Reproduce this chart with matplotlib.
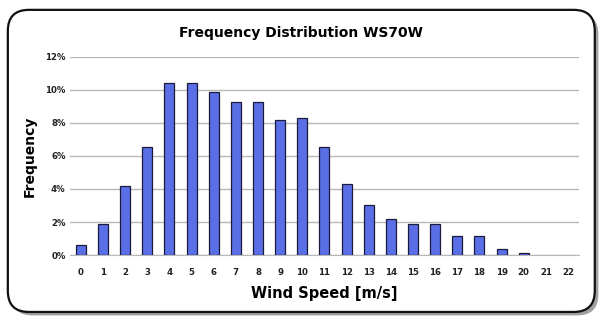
import matplotlib
matplotlib.use("Agg")
import matplotlib.pyplot as plt
from matplotlib.patches import FancyBboxPatch
from matplotlib.ticker import FuncFormatter

wind_speed = list(range(0, 23))
frequency = [0.6, 1.86, 4.18, 6.53, 10.4, 10.4, 9.88, 9.25, 9.25, 8.2, 8.3, 6.53,
             4.3, 3.05, 2.18, 1.88, 1.88, 1.17, 1.17, 0.38, 0.14, 0.0, 0.0]
y_ticks = [0, 2, 4, 6, 8, 10, 12]

fig = plt.figure(figsize=(6.02, 3.18), dpi=100)
fig.patch.set_facecolor("white")

asp = 602 / 318
shadow = FancyBboxPatch((0.019, 0.008), 0.975, 0.95, boxstyle="round,pad=0,rounding_size=0.035",
                        transform=fig.transFigure, facecolor="#a0a0a0", edgecolor="none",
                        zorder=0, mutation_aspect=asp)
frame = FancyBboxPatch((0.013, 0.019), 0.975, 0.95, boxstyle="round,pad=0,rounding_size=0.035",
                       transform=fig.transFigure, facecolor="white", edgecolor="#111111",
                       linewidth=1.6, zorder=1, mutation_aspect=asp)
fig.patches.extend([shadow, frame])

ax = fig.add_axes([0.116, 0.198, 0.846, 0.623])
ax.set_zorder(2)
ax.patch.set_alpha(0)
lws = [0.9 if f > 0 else 0 for f in frequency]
ax.bar(wind_speed, frequency, width=0.45, color="#5a6fe6", edgecolor="#1a1a3a",
       linewidth=lws, zorder=3)
ax.set_xlim(-0.5, 22.5)
ax.set_ylim(0, 12)
ax.set_yticks(y_ticks)
ax.yaxis.set_major_formatter(FuncFormatter(lambda v, p: f"{int(v)}%"))
ax.set_xticks(wind_speed)
ax.set_xticklabels([str(w) for w in wind_speed])
ax.grid(axis="y", color="#b8b8b8", linewidth=1.0, zorder=0)
for s in ["top", "right", "left"]:
    ax.spines[s].set_visible(False)
ax.spines["bottom"].set_color("#b8b8b8")
ax.tick_params(axis="both", length=0, labelsize=6.2)
for lab in ax.get_xticklabels() + ax.get_yticklabels():
    lab.set_fontweight("bold")
    lab.set_color("#222222")
ax.tick_params(axis="y", pad=3)
ax.tick_params(axis="x", pad=9)

ax.set_xlabel("Wind Speed [m/s]", fontsize=10.5, fontweight="bold", labelpad=7)
ax.set_ylabel("Frequency", fontsize=10, fontweight="bold", labelpad=6)
fig.text(0.5, 0.895, "Frequency Distribution WS70W", ha="center", va="center",
         fontsize=10, fontweight="bold")

fig.savefig("out.png", dpi=100)
